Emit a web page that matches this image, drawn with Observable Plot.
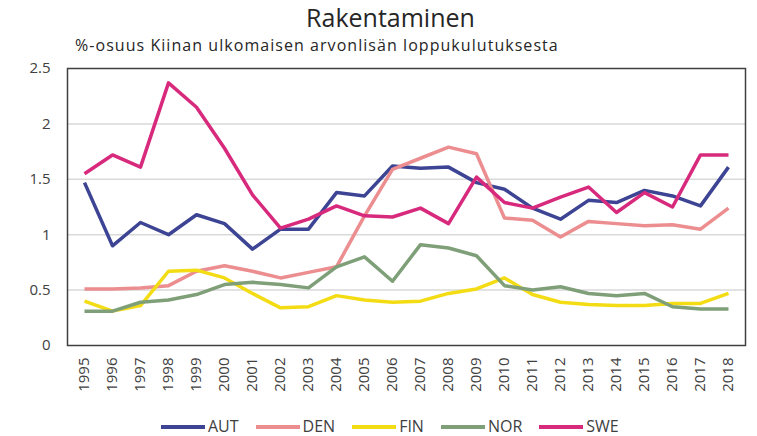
<!DOCTYPE html>
<html>
<head>
<meta charset="utf-8">
<script src="https://cdn.jsdelivr.net/npm/d3@7"></script>
<script src="https://cdn.jsdelivr.net/npm/@observablehq/plot@0.6"></script>
<style>
  body { margin: 0; background: white; font-family: "Open Sans", sans-serif; color: #404040; }
  #wrap { position: relative; width: 757px; height: 436px; overflow: hidden; background: white; }
  #title { position: absolute; top: 5px; left: 0; width: 757px; padding-left: 24px; box-sizing: border-box; text-align: center; font-size: 25px; line-height: 25px; color: #262626; white-space: nowrap; }
  #subtitle { position: absolute; top: 37px; left: 75px; font-size: 16px; line-height: 16px; letter-spacing: 1.05px; color: #262626; white-space: nowrap; z-index: 2; }
  #chart { position: absolute; top: 50px; left: 0; z-index: 1; }
  #legend { position: absolute; top: 418px; left: 161px; display: flex; align-items: center; gap: 17px; font-size: 16px; line-height: 17px; color: #404040; }
  .item { display: flex; align-items: center; gap: 3px; }
  .sw { width: 44px; height: 4px; }
</style>
</head>
<body>
<div id="wrap">
  <div id="title"></div>
  <div id="chart"></div>
  <div id="subtitle"></div>
  <div id="legend"></div>
</div>
<script>
const titleText = "Rakentaminen";
const subtitleText = "%-osuus Kiinan ulkomaisen arvonlisän loppukulutuksesta";
const years = [1995,1996,1997,1998,1999,2000,2001,2002,2003,2004,2005,2006,2007,2008,2009,2010,2011,2012,2013,2014,2015,2016,2017,2018];
const countries = ["AUT","DEN","FIN","NOR","SWE"];
const colors = ["#3d4494","#ec8d90","#f4dc14","#7f9f78","#d82a7d"];
const AUT = [1.47,0.90,1.11,1.00,1.18,1.10,0.87,1.05,1.05,1.38,1.35,1.62,1.60,1.61,1.47,1.41,1.24,1.14,1.31,1.29,1.40,1.35,1.26,1.61];
const DEN = [0.51,0.51,0.52,0.54,0.67,0.72,0.67,0.61,0.66,0.71,1.17,1.59,1.69,1.79,1.73,1.15,1.13,0.98,1.12,1.10,1.08,1.09,1.05,1.24];
const FIN = [0.40,0.31,0.36,0.67,0.68,0.61,0.47,0.34,0.35,0.45,0.41,0.39,0.40,0.47,0.51,0.61,0.46,0.39,0.37,0.36,0.36,0.38,0.38,0.47];
const NOR = [0.31,0.31,0.39,0.41,0.46,0.55,0.57,0.55,0.52,0.71,0.80,0.58,0.91,0.88,0.81,0.54,0.50,0.53,0.47,0.45,0.47,0.35,0.33,0.33];
const SWE = [1.55,1.72,1.61,2.37,2.15,1.78,1.36,1.06,1.14,1.26,1.17,1.16,1.24,1.10,1.52,1.29,1.24,1.34,1.43,1.20,1.38,1.25,1.72,1.72];
const yTicks = [0,0.5,1,1.5,2,2.5];
const yTickLabels = ["0","0.5","1","1.5","2","2.5"];
const gridValues = [0.5,1,1.5,2];

const seriesValues = [AUT, DEN, FIN, NOR, SWE];
const data = countries.flatMap((c, k) => years.map((y, i) => ({year: String(y), value: seriesValues[k][i], country: c})));

document.getElementById("title").textContent = titleText;
document.getElementById("subtitle").textContent = subtitleText;

const chart = Plot.plot({
  width: 757,
  height: 360,
  marginTop: 18,
  marginBottom: 65,
  marginLeft: 67,
  marginRight: 12,
  style: {fontFamily: "Open Sans", fontSize: "15px", color: "#404040", background: "transparent"},
  x: {type: "point", domain: years.map(String), padding: 0.5, label: null, tickRotate: -90, tickSize: 0, tickPadding: 12},
  y: {domain: [0, 2.5], ticks: yTicks, tickFormat: (d) => yTickLabels[yTicks.indexOf(d)], label: null, tickSize: 0, tickPadding: 17},
  color: {domain: countries, range: colors},
  marks: [
    Plot.ruleY(gridValues, {stroke: "#d9d9d9", strokeWidth: 1.5}),
    Plot.lineY(data, {x: "year", y: "value", z: "country", stroke: "country", strokeWidth: 3.5, strokeLinejoin: "round", strokeLinecap: "butt"}),
    Plot.frame({stroke: "#404040", strokeWidth: 1.5})
  ]
});
document.getElementById("chart").appendChild(chart);

const legend = document.getElementById("legend");
countries.forEach((c, k) => {
  const item = document.createElement("div");
  item.className = "item";
  const sw = document.createElement("div");
  sw.className = "sw";
  sw.style.background = colors[k];
  const t = document.createElement("span");
  t.textContent = c;
  item.appendChild(sw);
  item.appendChild(t);
  legend.appendChild(item);
});
</script>
</body>
</html>
